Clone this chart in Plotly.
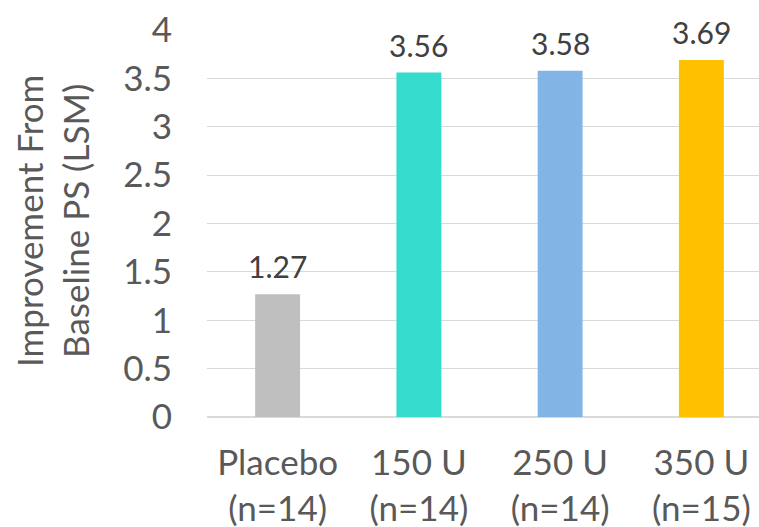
import plotly.graph_objects as go

# Treatment groups and least-squares mean improvement
groups = ["Placebo<br>(n=14)", "150 U<br>(n=14)", "250 U<br>(n=14)", "350 U<br>(n=15)"]
improvement = [1.27, 3.56, 3.58, 3.69]
bar_colors = ["#bfbfbf", "#35dccd", "#82b4e5", "#ffc000"]
y_ticks = [0, 0.5, 1, 1.5, 2, 2.5, 3, 3.5, 4]
y_tick_text = ["0", "0.5", "1", "1.5", "2", "2.5", "3", "3.5", "4"]

FONT = "Lato, Calibri, Carlito, sans-serif"
W, H = 759, 527
M_L, M_R, M_T, M_B = 207, 0, 30, 110

x_pos = list(range(len(groups)))

fig = go.Figure(
    go.Bar(
        x=x_pos,
        y=improvement,
        marker=dict(color=bar_colors, line=dict(width=0)),
        width=0.318,
        hoverinfo="skip",
    )
)

# Value labels sitting a little above each bar
annotations = [
    dict(
        x=xi, y=v, xref="x", yref="y",
        text=f"{v:.2f}",
        showarrow=False,
        yanchor="bottom",
        yshift=8,
        font=dict(family=FONT, size=30, color="#404040"),
    )
    for xi, v in zip(x_pos, improvement)
]

# Two-line vertical axis title, placed in pixels left of the plot area
plot_w = W - M_L - M_R
plot_h = H - M_T - M_B
title_cx, title_cy = 52, 221
annotations.append(
    dict(
        text="Improvement From<br>Baseline PS (LSM)",
        textangle=-90,
        x=(title_cx - M_L) / plot_w,
        y=(H - M_B - title_cy) / plot_h,
        xref="paper", yref="paper",
        xanchor="center", yanchor="middle",
        showarrow=False,
        font=dict(family=FONT, size=35, color="#595959"),
    )
)

fig.update_layout(
    width=W,
    height=H,
    margin=dict(l=M_L, r=M_R, t=M_T, b=M_B),
    paper_bgcolor="white",
    plot_bgcolor="white",
    showlegend=False,
    font=dict(family=FONT, color="#595959"),
    xaxis=dict(
        range=[-0.5, 3.408],
        tickmode="array",
        tickvals=x_pos,
        ticktext=groups,
        tickfont=dict(size=35, color="#595959"),
        showgrid=False,
        showline=False,
        zeroline=False,
        ticks="",
        ticklabelstandoff=22,
    ),
    yaxis=dict(
        range=[0, 4],
        tickmode="array",
        tickvals=y_ticks,
        ticktext=y_tick_text,
        tickfont=dict(size=35, color="#595959"),
        showgrid=True,
        gridcolor="#d9d9d9",
        gridwidth=1.3,
        zeroline=True,
        zerolinecolor="#d9d9d9",
        zerolinewidth=1.5,
        ticks="",
        ticklabelstandoff=34,
    ),
    annotations=annotations,
)

fig.write_html("out.html")
